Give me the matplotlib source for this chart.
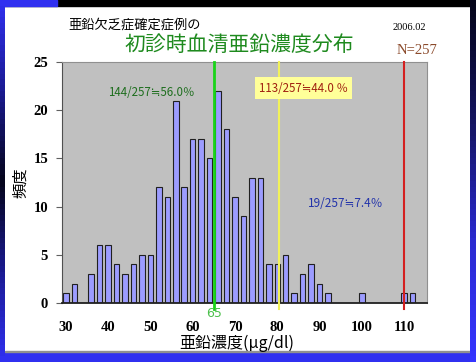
"""Histogram of serum zinc at first visit (zinc deficiency cases)."""

import matplotlib
matplotlib.use("Agg")
import matplotlib.pyplot as plt
import numpy as np
from matplotlib.colors import LinearSegmentedColormap
from matplotlib.patches import Rectangle

plt.rcParams["font.family"] = ["Noto Sans CJK JP", "DejaVu Sans"]

# bins of 2 ug/dl, left value of each bin
zinc = [30, 32, 34, 36, 38, 40, 42, 44, 46, 48, 50, 52, 54, 56, 58, 60, 62, 64,
        66, 68, 70, 72, 74, 76, 78, 80, 82, 84, 86, 88, 90, 92, 100, 110, 112]
counts = [1, 2, 0, 3, 6, 6, 4, 3, 4, 5, 5, 12, 11, 21, 12, 17, 17, 15,
          22, 18, 11, 9, 13, 13, 4, 4, 5, 1, 3, 4, 2, 1, 1, 1, 1]
x_ticks = [30, 40, 50, 60, 70, 80, 90, 100, 110]
y_ticks = [0, 5, 10, 15, 20, 25]
cutoffs = [65, 80.5, 110]
cut_colors = ["#19d419", "#f2f25a", "#d42020"]

W, H = 477, 362
fig = plt.figure(figsize=(W / 100, H / 100), dpi=100)
fig.patch.set_facecolor("white")


def frame_strip(x0, y0, w, h, cmap):
    # decorative slide border drawn as a small gradient image
    sax = fig.add_axes([x0 / W, y0 / H, w / W, h / H])
    sax.imshow(np.linspace(0, 1, 64).reshape(-1, 1), aspect="auto", cmap=cmap, origin="lower")
    sax.set_axis_off()


left_cm = LinearSegmentedColormap.from_list("l", ["#3030f0", "#1a1a90", "#05051a", "#1a1a90", "#3030f0"])
right_cm = LinearSegmentedColormap.from_list("r", ["#3535ff", "#2a2ad0", "#141460", "#05051a"])
frame_strip(0, 0, 5, H, left_cm)
frame_strip(470, 0, 7, H, right_cm)
fig.add_artist(Rectangle((0, 0), 1, 10 / H, transform=fig.transFigure, color="#3030f0", zorder=-1))
fig.add_artist(Rectangle((0, 1 - 6 / H), 1, 6 / H, transform=fig.transFigure, color="black", zorder=-1))
fig.add_artist(Rectangle((0, 1 - 6 / H), 57 / W, 6 / H, transform=fig.transFigure, color="#3030f0", zorder=-1))
fig.add_artist(Rectangle((5 / W, 10 / H), 465 / W, 1 / H, transform=fig.transFigure, color="#909090", zorder=-1))

ax = fig.add_axes([62 / W, 59 / H, 365 / W, 241 / H])
ax.set_facecolor("#c0c0c0")
ax.bar(zinc, counts, width=1.3, color="#9c9cff", edgecolor="#202020", linewidth=0.8, zorder=2)

for v, c in zip(cutoffs, cut_colors):
    lw = 2.0 if v == 65 else 1.5
    ax.plot([v, v], [-0.6, 25], color=c, linewidth=lw, clip_on=False, zorder=3)

ax.set_xlim(29.1, 115.4)
ax.set_ylim(0, 25)
ax.set_xticks(x_ticks)
ax.set_yticks(y_ticks)
ax.set_xticklabels([str(t) for t in x_ticks], family="Liberation Serif", fontsize=10.5, fontweight="bold")
ax.set_yticklabels([str(t) for t in y_ticks], family="Liberation Serif", fontsize=10.5, fontweight="bold")
ax.tick_params(axis="x", length=0, pad=13)
ax.tick_params(axis="y", length=4, direction="out", pad=6, color="#606060")
for side in ["top", "right"]:
    ax.spines[side].set_color("#909090")
ax.spines["left"].set_color("#505050")
ax.spines["bottom"].set_color("#202020")
ax.spines["bottom"].set_linewidth(1.3)

ax.set_xlabel("亜鉛濃度(μg/dl)", fontsize=11.5)
ax.xaxis.set_label_coords(0.48, -0.13)
ax.set_ylabel("頻度", fontsize=11)
ax.yaxis.set_label_coords(-0.09, 0.5)

ax.text(65, -0.45, "65", color="#4cc04c", fontsize=9, ha="center", va="top", family="DejaVu Sans")

ax.text(40, 21.8, "144/257≒56.0％", color="#1e6e1e", fontsize=8.3, ha="left", va="center")
ax.text(75.6, 22.3, "113/257≒44.0 ％", color="#a02010", fontsize=8.3, ha="left", va="center",
        bbox=dict(boxstyle="square,pad=0.35", facecolor="#ffff99", edgecolor="none"))
ax.text(87.2, 10.3, "19/257≒7.4％", color="#2233aa", fontsize=8.5, ha="left", va="center")

fig.text(68 / W, 1 - 25 / H, "亜鉛欠乏症確定症例の", fontsize=9.5, color="black", ha="left", va="center")
fig.text(125 / W, 1 - 45 / H, "初診時血清亜鉛濃度分布", fontsize=15, color="#1e8a1e", ha="left", va="center")
fig.text(393 / W, 1 - 28 / H, "2006.02", fontsize=7.5, color="black", ha="left", va="center",
         family="Liberation Serif")
fig.text(397 / W, 1 - 50 / H, "N=257", fontsize=10.5, color="#8b4a2b", ha="left", va="center",
         family="Liberation Serif")

fig.savefig("out.png", dpi=100)
